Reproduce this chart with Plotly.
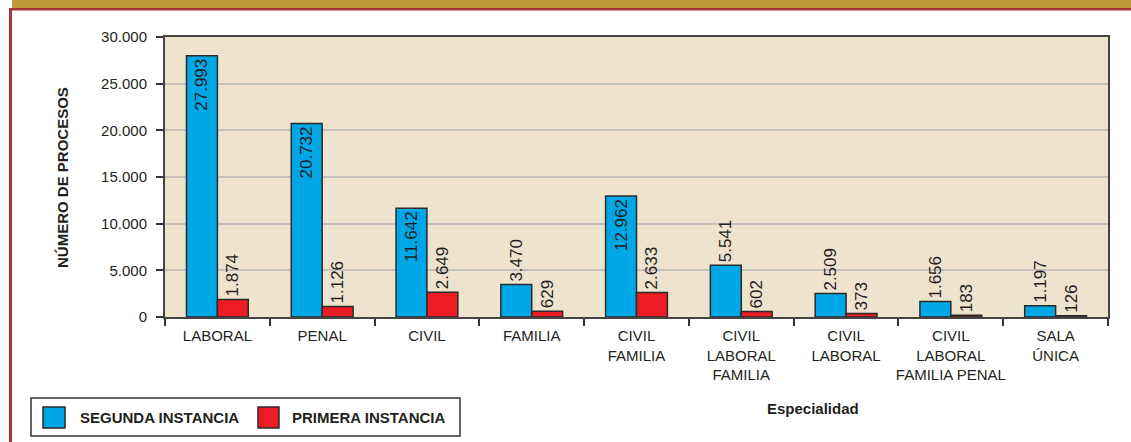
import plotly.graph_objects as go

categories = ["LABORAL", "PENAL", "CIVIL", "FAMILIA", "CIVIL<br>FAMILIA",
              "CIVIL<br>LABORAL<br>FAMILIA", "CIVIL<br>LABORAL",
              "CIVIL<br>LABORAL<br>FAMILIA PENAL", "SALA<br>ÚNICA"]
segunda = [27993, 20732, 11642, 3470, 12962, 5541, 2509, 1656, 1197]
primera = [1874, 1126, 2649, 629, 2633, 602, 373, 183, 126]
y_ticks = [0, 5000, 10000, 15000, 20000, 25000, 30000]
y_tick_labels = ["0", "5.000", "10.000", "15.000", "20.000", "25.000", "30.000"]

FONT = "Liberation Sans, Arial, sans-serif"
BLUE = "#00A7E7"
RED = "#EC1C24"
EDGE = "#2b2b2b"
TXT = "#231F20"


def fmt(v):
    return f"{v:,}".replace(",", ".")


def positions(vals):
    return ["inside" if v > 10000 else "outside" for v in vals]


fig = go.Figure()
fig.add_trace(go.Bar(
    x=categories, y=segunda, name="SEGUNDA INSTANCIA",
    marker=dict(color=BLUE, line=dict(color=EDGE, width=1.5)),
    text=[fmt(v) for v in segunda], textposition=positions(segunda),
    insidetextanchor="end", textangle=-90, constraintext="none",
    textfont=dict(family=FONT, size=17, color=TXT),
    cliponaxis=False, showlegend=False,
))
fig.add_trace(go.Bar(
    x=categories, y=primera, name="PRIMERA INSTANCIA",
    marker=dict(color=RED, line=dict(color=EDGE, width=1.5)),
    text=[fmt(v) for v in primera], textposition="outside",
    textangle=-90, constraintext="none",
    textfont=dict(family=FONT, size=17, color=TXT),
    cliponaxis=False, showlegend=False,
))

L, R, T, B = 165, 23, 37, 125
W, H = 1131, 442
pw, ph = W - L - R, H - T - B


def px_x(p):
    return (p - L) / pw


def px_y(p):
    return (H - B - p) / ph


shapes = [
    dict(type="rect", xref="paper", yref="paper", x0=px_x(12), x1=px_x(W + 5),
         y0=px_y(8), y1=px_y(-5), fillcolor="#C19A35", line=dict(width=0), layer="below"),
    dict(type="rect", xref="paper", yref="paper", x0=px_x(9), x1=px_x(W + 5),
         y0=px_y(10.5), y1=px_y(8), fillcolor="#A8333B", line=dict(width=0), layer="below"),
    dict(type="rect", xref="paper", yref="paper", x0=px_x(9), x1=px_x(12),
         y0=px_y(H + 5), y1=px_y(8), fillcolor="#A8333B", line=dict(width=0), layer="below"),
    dict(type="rect", xref="paper", yref="paper", x0=px_x(31), x1=px_x(460),
         y0=px_y(436), y1=px_y(398), fillcolor="white", line=dict(color="#333", width=1.5)),
    dict(type="rect", xref="paper", yref="paper", x0=px_x(43), x1=px_x(65),
         y0=px_y(428), y1=px_y(407), fillcolor=BLUE, line=dict(color=EDGE, width=1.5)),
    dict(type="rect", xref="paper", yref="paper", x0=px_x(258), x1=px_x(279),
         y0=px_y(428), y1=px_y(407), fillcolor=RED, line=dict(color=EDGE, width=1.5)),
]

annotations = [
    dict(xref="paper", yref="paper", x=px_x(78), y=px_y(417.5), xanchor="left", yanchor="middle",
         text="<b>SEGUNDA INSTANCIA</b>", showarrow=False,
         font=dict(family=FONT, size=15, color=TXT)),
    dict(xref="paper", yref="paper", x=px_x(290), y=px_y(417.5), xanchor="left", yanchor="middle",
         text="<b>PRIMERA INSTANCIA</b>", showarrow=False,
         font=dict(family=FONT, size=15, color=TXT)),
    dict(xref="paper", yref="paper", x=px_x(813), y=px_y(408), xanchor="center", yanchor="middle",
         text="<b>Especialidad</b>", showarrow=False,
         font=dict(family=FONT, size=15, color=TXT)),
    dict(xref="paper", yref="paper", x=px_x(62), y=px_y(178), xanchor="center", yanchor="middle",
         text="<b>NÚMERO DE PROCESOS</b>", showarrow=False, textangle=-90,
         font=dict(family=FONT, size=15, color=TXT)),
]

fig.update_layout(
    width=W, height=H,
    margin=dict(l=L, r=R, t=T, b=B, pad=0, autoexpand=False),
    paper_bgcolor="white", plot_bgcolor="#EEE3CD",
    barmode="group", bargap=0.41, bargroupgap=0.0,
    font=dict(family=FONT, size=15, color=TXT),
    shapes=shapes, annotations=annotations,
    xaxis=dict(
        type="category", tickson="boundaries", ticks="outside", ticklen=7,
        tickcolor="#333", tickwidth=1.5, tickangle=0, automargin=False,
        ticklabelstandoff=4,
        showline=True, linecolor="#444", linewidth=2, mirror=True,
        tickfont=dict(family=FONT, size=15, color=TXT),
        showgrid=False,
    ),
    yaxis=dict(
        range=[0, 30000], tickvals=y_ticks, ticktext=y_tick_labels,
        ticks="outside", ticklen=7, tickcolor="#333", tickwidth=1.5,
        automargin=False, ticklabelstandoff=6,
        showline=True, linecolor="#444", linewidth=2, mirror=True,
        showgrid=True, gridcolor="#C4C1BC", gridwidth=2,
        zeroline=False,
        tickfont=dict(family=FONT, size=15, color=TXT),
    ),
)

fig.write_html("out.html", config={"displayModeBar": False},
               post_script="document.body.style.margin='0px';")
